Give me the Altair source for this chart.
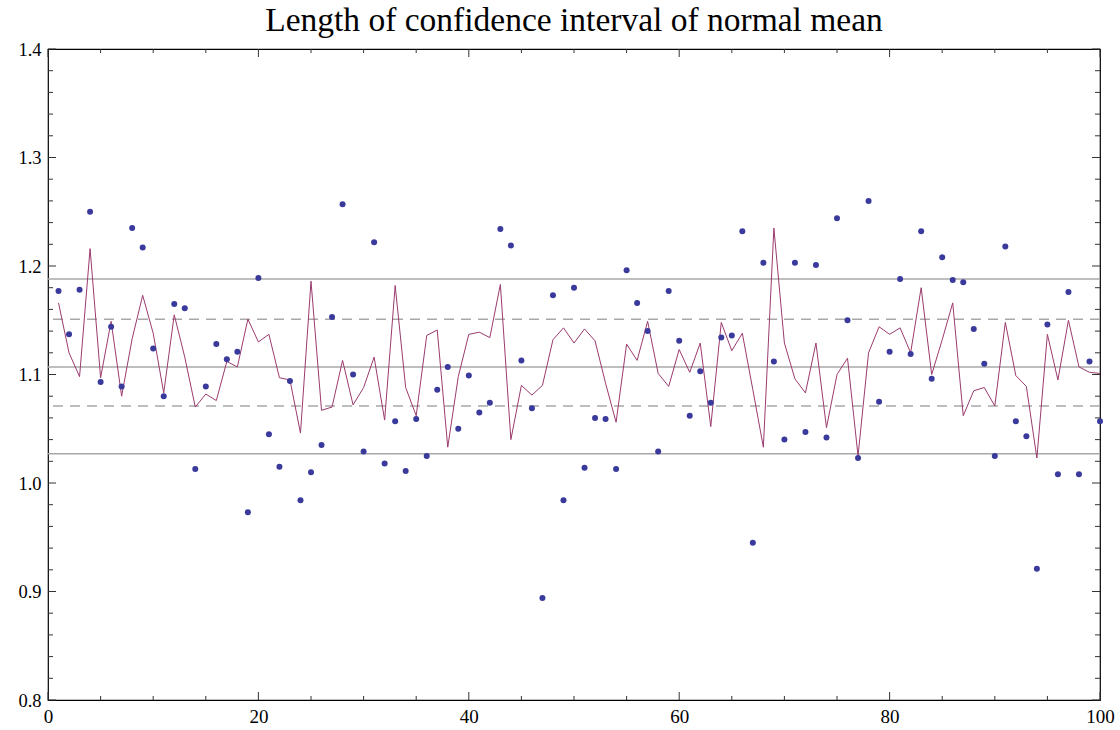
import altair as alt
import pandas as pd

idx = list(range(1, 101))
dots = [1.177, 1.137, 1.178, 1.250, 1.093, 1.144, 1.089, 1.235, 1.217, 1.124,
        1.080, 1.165, 1.161, 1.013, 1.089, 1.128, 1.114, 1.121, 0.973, 1.189,
        1.045, 1.015, 1.094, 0.984, 1.010, 1.035, 1.153, 1.257, 1.100, 1.029,
        1.222, 1.018, 1.057, 1.011, 1.059, 1.025, 1.086, 1.107, 1.050, 1.099,
        1.065, 1.074, 1.234, 1.219, 1.113, 1.069, 0.894, 1.173, 0.984, 1.180,
        1.014, 1.060, 1.059, 1.013, 1.196, 1.166, 1.140, 1.029, 1.177, 1.131,
        1.062, 1.103, 1.074, 1.134, 1.136, 1.232, 0.945, 1.203, 1.112, 1.040,
        1.203, 1.047, 1.201, 1.042, 1.244, 1.150, 1.023, 1.260, 1.075, 1.121,
        1.188, 1.119, 1.232, 1.096, 1.208, 1.187, 1.185, 1.142, 1.110, 1.025,
        1.218, 1.057, 1.043, 0.921, 1.146, 1.008, 1.176, 1.008, 1.112, 1.057]
line = [1.166, 1.120, 1.098, 1.216, 1.097, 1.149, 1.080, 1.133, 1.173, 1.138,
        1.083, 1.155, 1.116, 1.070, 1.082, 1.076, 1.112, 1.107, 1.151, 1.130,
        1.137, 1.097, 1.095, 1.046, 1.186, 1.067, 1.070, 1.113, 1.072, 1.088,
        1.116, 1.058, 1.182, 1.088, 1.062, 1.136, 1.141, 1.033, 1.098, 1.137,
        1.139, 1.134, 1.183, 1.040, 1.090, 1.081, 1.090, 1.132, 1.143, 1.129,
        1.142, 1.131, 1.092, 1.056, 1.128, 1.113, 1.149, 1.101, 1.089, 1.123,
        1.102, 1.129, 1.052, 1.148, 1.122, 1.138, 1.086, 1.033, 1.235, 1.129,
        1.096, 1.083, 1.129, 1.051, 1.100, 1.115, 1.025, 1.120, 1.144, 1.137,
        1.143, 1.120, 1.180, 1.100, 1.132, 1.166, 1.062, 1.085, 1.088, 1.071,
        1.148, 1.099, 1.089, 1.023, 1.137, 1.095, 1.150, 1.107, 1.102, 1.101]
solid_levels = [1.027, 1.107, 1.188]
dashed_levels = [1.071, 1.151]

x_major = [0, 20, 40, 60, 80, 100]
x_minor = [v for v in range(5, 100, 5) if v % 20 != 0]
y_major = [0.8, 0.9, 1.0, 1.1, 1.2, 1.3, 1.4]
y_minor = [round(0.8 + 0.02 * k, 2) for k in range(31) if k % 5 != 0]

W, H = 1052, 651
FONT = "Liberation Serif, Times New Roman, serif"

xscale = alt.Scale(domain=[0, 100], nice=False, zero=False)
yscale = alt.Scale(domain=[0.8, 1.4], nice=False, zero=False)
xaxis = alt.Axis(values=x_major, format="d", labelFont=FONT, labelFontSize=19,
                 labelPadding=7, title=None, labelColor="black",
                 labelFlush=False, labelOverlap=False, labelBound=False)
yaxis = alt.Axis(values=y_major, format=".1f", labelFont=FONT, labelFontSize=18.5,
                 labelPadding=7, title=None, labelColor="black",
                 labelFlush=False, labelOverlap=False, labelBound=False)


def X(field):
    return alt.X(field, type="quantitative", scale=xscale, axis=xaxis)


def Y(field):
    return alt.Y(field, type="quantitative", scale=yscale, axis=yaxis)


df = pd.DataFrame({"i": idx, "dot": dots, "line": line})
solid_df = pd.DataFrame({"lvl": solid_levels})
dashed_df = pd.DataFrame({"lvl": dashed_levels})
xmaj_df = pd.DataFrame({"t": x_major})
xmin_df = pd.DataFrame({"t": x_minor})
ymaj_df = pd.DataFrame({"t": y_major})
ymin_df = pd.DataFrame({"t": y_minor})

solid = alt.Chart(solid_df).mark_rule(color="#a8a8a8", strokeWidth=1.5).encode(y=Y("lvl"))
dashed = alt.Chart(dashed_df).mark_rule(color="#a8a8a8", strokeWidth=1.5,
                                        strokeDash=[10, 7]).encode(y=Y("lvl"))
ln = alt.Chart(df).mark_line(color="#9b3a6e", strokeWidth=1).encode(x=X("i"), y=Y("line"))
pts = alt.Chart(df).mark_circle(color="#3a3a9c", size=36, opacity=1).encode(x=X("i"), y=Y("dot"))

tick_color = "#333333"


def xticks(d, L):
    bot = alt.Chart(d).mark_rule(color=tick_color, strokeWidth=1).encode(
        x=X("t"), y=alt.value(H), y2=alt.value(H - L))
    top = alt.Chart(d).mark_rule(color=tick_color, strokeWidth=1).encode(
        x=X("t"), y=alt.value(0), y2=alt.value(L))
    return [bot, top]


def yticks(d, L):
    left = alt.Chart(d).mark_rule(color=tick_color, strokeWidth=1).encode(
        y=Y("t"), x=alt.value(0), x2=alt.value(L))
    right = alt.Chart(d).mark_rule(color=tick_color, strokeWidth=1).encode(
        y=Y("t"), x=alt.value(W), x2=alt.value(W - L))
    return [left, right]


layers = [solid, dashed, ln, pts] + xticks(xmaj_df, 8) + xticks(xmin_df, 4) \
    + yticks(ymaj_df, 8) + yticks(ymin_df, 5)

chart = alt.layer(*layers).properties(
    width=W, height=H,
    title=alt.TitleParams("Length of confidence interval of normal mean",
                          font=FONT, fontSize=33.5, fontWeight="normal",
                          color="black", anchor="middle", offset=2),
    autosize=alt.AutoSizeParams(type="none"),
    padding={"left": 48, "top": 49, "right": 20, "bottom": 30},
    background="white",
).configure_view(stroke="black", strokeWidth=1.2).configure_axis(
    grid=False, domain=False, ticks=False, labelFont=FONT, labelColor="black"
)

chart.save("out.html", embed_options={"renderer": "svg", "actions": False})
